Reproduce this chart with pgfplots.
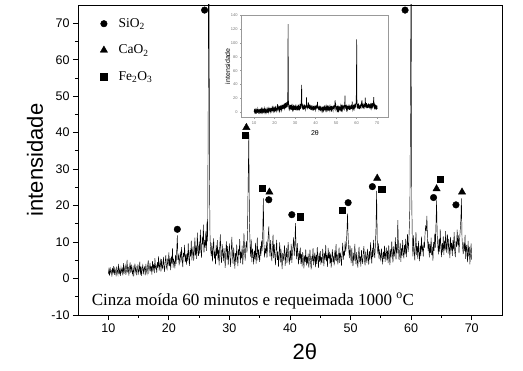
\documentclass[border=0pt]{standalone}
\usepackage{fontspec}
\setmainfont{Liberation Sans}
\newfontfamily\tnr{Liberation Serif}
\usepackage{pgfplots}
\usepackage{pgfplotstable}
\pgfplotsset{compat=1.18}

\pgfplotstableread[row sep=\\]{
x y\\
10.0 1.2\\ 10.1 2.5\\ 10.2 0.8\\ 10.3 3.1\\ 10.4 1.6\\ 10.5 2.2\\ 10.6 0.5\\ 10.7 2.9\\ 10.8 1.4\\ 10.9 3.4\\
11.0 1.0\\ 11.1 2.7\\ 11.2 1.9\\ 11.3 0.6\\ 11.4 3.3\\ 11.5 2.1\\ 11.6 1.1\\ 11.7 4.0\\ 11.8 1.5\\ 11.9 2.4\\
12.0 0.7\\ 12.1 3.0\\ 12.2 1.8\\ 12.3 2.6\\ 12.4 0.9\\ 12.5 4.2\\ 12.6 1.3\\ 12.7 2.8\\ 12.8 3.6\\ 12.9 1.0\\
13.0 2.3\\ 13.1 5.1\\ 13.2 1.7\\ 13.3 3.2\\ 13.4 0.8\\ 13.5 2.9\\ 13.6 4.4\\ 13.7 1.6\\ 13.8 3.8\\ 13.9 2.0\\
14.0 1.2\\ 14.1 3.5\\ 14.2 0.6\\ 14.3 2.7\\ 14.4 4.1\\ 14.5 1.9\\ 14.6 3.0\\ 14.7 0.9\\ 14.8 2.5\\ 14.9 3.9\\
15.0 1.4\\ 15.1 2.2\\ 15.2 4.6\\ 15.3 1.1\\ 15.4 3.3\\ 15.5 0.7\\ 15.6 2.8\\ 15.7 3.7\\ 15.8 1.5\\ 15.9 2.6\\
16.0 3.1\\ 16.1 0.9\\ 16.2 4.0\\ 16.3 2.2\\ 16.4 1.3\\ 16.5 3.6\\ 16.6 5.0\\ 16.7 1.8\\ 16.8 2.9\\ 16.9 4.3\\
17.0 2.0\\ 17.1 3.4\\ 17.2 1.1\\ 17.3 4.8\\ 17.4 2.6\\ 17.5 3.9\\ 17.6 1.5\\ 17.7 5.6\\ 17.8 2.8\\ 17.9 3.3\\
18.0 1.6\\ 18.1 4.5\\ 18.2 3.0\\ 18.3 6.1\\ 18.4 2.2\\ 18.5 3.8\\ 18.6 4.9\\ 18.7 1.9\\ 18.8 5.3\\ 18.9 3.1\\
19.0 2.7\\ 19.1 5.9\\ 19.2 3.6\\ 19.3 1.8\\ 19.4 4.7\\ 19.5 6.4\\ 19.6 3.2\\ 19.7 2.5\\ 19.8 5.1\\ 19.9 4.0\\
20.0 7.2\\ 20.1 3.4\\ 20.2 5.5\\ 20.3 2.3\\ 20.4 6.0\\ 20.5 4.1\\ 20.6 8.3\\ 20.7 3.0\\ 20.8 5.2\\ 20.9 4.6\\
21.0 2.8\\ 21.1 6.5\\ 21.2 4.0\\ 21.3 7.9\\ 21.4 11.8\\ 21.5 5.1\\ 21.6 6.2\\ 21.7 3.6\\ 21.8 5.8\\ 21.9 7.4\\
22.0 4.4\\ 22.1 8.6\\ 22.2 5.3\\ 22.3 3.1\\ 22.4 7.0\\ 22.5 5.9\\ 22.6 9.2\\ 22.7 4.5\\ 22.8 6.6\\ 22.9 3.8\\
23.0 6.9\\ 23.1 4.8\\ 23.2 9.7\\ 23.3 5.6\\ 23.4 3.5\\ 23.5 7.8\\ 23.6 6.1\\ 23.7 10.4\\ 23.8 5.0\\ 23.9 7.3\\
24.0 8.8\\ 24.1 4.9\\ 24.2 7.5\\ 24.3 11.2\\ 24.4 6.3\\ 24.5 9.0\\ 24.6 5.4\\ 24.7 12.6\\ 24.8 7.7\\ 24.9 6.2\\
25.0 10.1\\ 25.1 6.8\\ 25.2 13.4\\ 25.3 8.0\\ 25.4 5.7\\ 25.5 11.5\\ 25.6 9.3\\ 25.7 14.8\\ 25.8 7.1\\ 25.9 10.6\\
26.0 8.4\\ 26.1 12.9\\ 26.2 7.6\\ 26.3 15.6\\ 26.4 10.2\\ 26.5 46.0\\ 26.6 127.0\\ 26.7 28.0\\ 26.8 11.3\\ 26.9 7.9\\
27.0 6.1\\ 27.1 9.8\\ 27.2 4.7\\ 27.3 8.2\\ 27.4 11.0\\ 27.5 5.5\\ 27.6 7.4\\ 27.7 3.9\\ 27.8 9.1\\ 27.9 6.3\\
28.0 10.5\\ 28.1 5.2\\ 28.2 7.9\\ 28.3 3.6\\ 28.4 8.7\\ 28.5 12.1\\ 28.6 6.0\\ 28.7 4.3\\ 28.8 9.4\\ 28.9 7.1\\
29.0 4.8\\ 29.1 8.3\\ 29.2 6.6\\ 29.3 2.9\\ 29.4 7.5\\ 29.5 10.2\\ 29.6 5.1\\ 29.7 8.9\\ 29.8 3.7\\ 29.9 6.8\\
30.0 9.6\\ 30.1 5.4\\ 30.2 3.2\\ 30.3 7.7\\ 30.4 11.4\\ 30.5 6.2\\ 30.6 4.0\\ 30.7 8.5\\ 30.8 5.8\\ 30.9 2.7\\
31.0 7.0\\ 31.1 4.6\\ 31.2 9.3\\ 31.3 5.9\\ 31.4 3.4\\ 31.5 8.1\\ 31.6 6.5\\ 31.7 10.8\\ 31.8 4.2\\ 31.9 7.3\\
32.0 5.5\\ 32.1 9.0\\ 32.2 3.8\\ 32.3 6.9\\ 32.4 12.4\\ 32.5 7.8\\ 32.6 4.9\\ 32.7 8.6\\ 32.8 10.3\\ 32.9 7.1\\
33.0 14.5\\ 33.1 27.5\\ 33.2 39.5\\ 33.3 16.2\\ 33.4 9.4\\ 33.5 6.0\\ 33.6 10.7\\ 33.7 4.5\\ 33.8 8.2\\ 33.9 6.4\\
34.0 3.9\\ 34.1 7.6\\ 34.2 5.3\\ 34.3 9.8\\ 34.4 4.1\\ 34.5 6.7\\ 34.6 11.2\\ 34.7 5.0\\ 34.8 8.0\\ 34.9 6.1\\
35.0 4.6\\ 35.1 8.9\\ 35.2 6.2\\ 35.3 10.4\\ 35.4 7.5\\ 35.5 12.8\\ 35.6 22.0\\ 35.7 9.6\\ 35.8 5.8\\ 35.9 8.3\\
36.0 6.9\\ 36.1 10.1\\ 36.2 5.7\\ 36.3 9.2\\ 36.4 11.6\\ 36.5 14.3\\ 36.6 8.4\\ 36.7 6.0\\ 36.8 10.5\\ 36.9 7.2\\
37.0 4.8\\ 37.1 8.7\\ 37.2 12.0\\ 37.3 5.6\\ 37.4 9.4\\ 37.5 6.3\\ 37.6 3.7\\ 37.7 7.9\\ 37.8 10.6\\ 37.9 5.1\\
38.0 7.4\\ 38.1 3.2\\ 38.2 6.8\\ 38.3 9.9\\ 38.4 4.4\\ 38.5 8.1\\ 38.6 5.5\\ 38.7 2.6\\ 38.8 7.0\\ 38.9 4.9\\
39.0 6.6\\ 39.1 9.1\\ 39.2 3.5\\ 39.3 5.9\\ 39.4 8.4\\ 39.5 4.2\\ 39.6 7.3\\ 39.7 10.0\\ 39.8 5.4\\ 39.9 3.8\\
40.0 7.7\\ 40.1 5.0\\ 40.2 9.5\\ 40.3 4.3\\ 40.4 6.9\\ 40.5 8.8\\ 40.6 11.3\\ 40.7 6.2\\ 40.8 9.0\\ 40.9 15.2\\
41.0 8.1\\ 41.1 5.3\\ 41.2 9.7\\ 41.3 6.4\\ 41.4 3.9\\ 41.5 7.6\\ 41.6 5.1\\ 41.7 8.5\\ 41.8 4.0\\ 41.9 6.7\\
42.0 3.3\\ 42.1 7.2\\ 42.2 5.6\\ 42.3 2.8\\ 42.4 6.3\\ 42.5 4.5\\ 42.6 8.0\\ 42.7 3.6\\ 42.8 5.9\\ 42.9 4.1\\
43.0 6.8\\ 43.1 3.0\\ 43.2 5.2\\ 43.3 7.9\\ 43.4 4.4\\ 43.5 2.5\\ 43.6 6.1\\ 43.7 4.8\\ 43.8 8.3\\ 43.9 3.7\\
44.0 5.4\\ 44.1 7.1\\ 44.2 3.1\\ 44.3 6.5\\ 44.4 4.0\\ 44.5 8.6\\ 44.6 5.7\\ 44.7 2.9\\ 44.8 6.9\\ 44.9 4.6\\
45.0 7.5\\ 45.1 3.8\\ 45.2 5.9\\ 45.3 4.2\\ 45.4 8.1\\ 45.5 6.0\\ 45.6 3.4\\ 45.7 7.0\\ 45.8 5.1\\ 45.9 9.2\\
46.0 4.7\\ 46.1 6.4\\ 46.2 3.2\\ 46.3 8.4\\ 46.4 5.5\\ 46.5 7.3\\ 46.6 4.1\\ 46.7 6.8\\ 46.8 3.0\\ 46.9 5.8\\
47.0 8.0\\ 47.1 4.4\\ 47.2 6.2\\ 47.3 3.6\\ 47.4 7.7\\ 47.5 5.0\\ 47.6 9.4\\ 47.7 4.8\\ 47.8 6.6\\ 47.9 3.9\\
48.0 5.7\\ 48.1 8.5\\ 48.2 4.3\\ 48.3 7.1\\ 48.4 5.9\\ 48.5 3.5\\ 48.6 6.9\\ 48.7 9.8\\ 48.8 5.2\\ 48.9 7.6\\
49.0 6.3\\ 49.1 10.2\\ 49.2 7.4\\ 49.3 9.0\\ 49.4 12.9\\ 49.5 17.8\\ 49.6 11.1\\ 49.7 8.0\\ 49.8 5.6\\ 49.9 9.1\\
50.0 6.7\\ 50.1 4.2\\ 50.2 8.3\\ 50.3 5.5\\ 50.4 3.4\\ 50.5 7.0\\ 50.6 4.9\\ 50.7 9.5\\ 50.8 5.8\\ 50.9 3.9\\
51.0 7.2\\ 51.1 5.1\\ 51.2 3.0\\ 51.3 6.4\\ 51.4 8.7\\ 51.5 4.5\\ 51.6 6.1\\ 51.7 3.3\\ 51.8 7.8\\ 51.9 5.4\\
52.0 4.0\\ 52.1 6.9\\ 52.2 8.9\\ 52.3 5.0\\ 52.4 3.6\\ 52.5 7.4\\ 52.6 5.7\\ 52.7 4.3\\ 52.8 8.1\\ 52.9 6.0\\
53.0 3.8\\ 53.1 7.5\\ 53.2 5.2\\ 53.3 9.9\\ 53.4 6.6\\ 53.5 4.1\\ 53.6 8.4\\ 53.7 5.9\\ 53.8 10.6\\ 53.9 7.2\\
54.0 5.6\\ 54.1 9.3\\ 54.2 13.8\\ 54.3 24.0\\ 54.4 10.7\\ 54.5 6.8\\ 54.6 9.6\\ 54.7 5.3\\ 54.8 8.0\\ 54.9 6.5\\
55.0 4.7\\ 55.1 8.2\\ 55.2 6.1\\ 55.3 3.9\\ 55.4 7.3\\ 55.5 5.4\\ 55.6 9.0\\ 55.7 4.6\\ 55.8 6.8\\ 55.9 8.5\\
56.0 5.0\\ 56.1 7.7\\ 56.2 4.2\\ 56.3 9.1\\ 56.4 6.3\\ 56.5 3.7\\ 56.6 8.0\\ 56.7 5.8\\ 56.8 10.2\\ 56.9 6.6\\
57.0 4.4\\ 57.1 8.8\\ 57.2 6.0\\ 57.3 7.5\\ 57.4 11.3\\ 57.5 5.2\\ 57.6 9.4\\ 57.7 6.9\\ 57.8 16.0\\ 57.9 8.7\\
58.0 5.1\\ 58.1 7.4\\ 58.2 9.8\\ 58.3 4.6\\ 58.4 8.3\\ 58.5 6.2\\ 58.6 10.5\\ 58.7 7.0\\ 58.8 5.5\\ 58.9 9.2\\
59.0 6.8\\ 59.1 10.9\\ 59.2 5.9\\ 59.3 8.6\\ 59.4 12.2\\ 59.5 7.3\\ 59.6 9.7\\ 59.7 14.1\\ 59.8 20.5\\ 59.9 48.0\\
60.0 105.0\\ 60.1 22.0\\ 60.2 9.5\\ 60.3 6.1\\ 60.4 11.8\\ 60.5 7.6\\ 60.6 5.0\\ 60.7 9.3\\ 60.8 12.7\\ 60.9 6.4\\
61.0 8.9\\ 61.1 5.4\\ 61.2 10.3\\ 61.3 7.1\\ 61.4 4.8\\ 61.5 9.0\\ 61.6 6.2\\ 61.7 11.5\\ 61.8 7.8\\ 61.9 8.6\\
62.0 6.0\\ 62.1 9.9\\ 62.2 8.4\\ 62.3 12.4\\ 62.4 14.6\\ 62.5 13.0\\ 62.6 17.2\\ 62.7 11.0\\ 62.8 7.5\\ 62.9 10.1\\
63.0 5.8\\ 63.1 9.4\\ 63.2 7.0\\ 63.3 11.2\\ 63.4 6.4\\ 63.5 8.7\\ 63.6 4.9\\ 63.7 10.0\\ 63.8 7.6\\ 63.9 12.3\\
64.0 8.5\\ 64.1 14.8\\ 64.2 21.4\\ 64.3 12.0\\ 64.4 9.2\\ 64.5 6.6\\ 64.6 10.8\\ 64.7 7.4\\ 64.8 13.5\\ 64.9 8.9\\
65.0 5.9\\ 65.1 9.7\\ 65.2 7.2\\ 65.3 11.6\\ 65.4 6.5\\ 65.5 10.4\\ 65.6 8.0\\ 65.7 13.0\\ 65.8 7.1\\ 65.9 9.5\\
66.0 12.1\\ 66.1 6.8\\ 66.2 10.9\\ 66.3 8.3\\ 66.4 5.6\\ 66.5 11.4\\ 66.6 7.7\\ 66.7 9.8\\ 66.8 6.2\\ 66.9 10.5\\
67.0 8.0\\ 67.1 12.7\\ 67.2 7.3\\ 67.3 5.9\\ 67.4 10.2\\ 67.5 8.6\\ 67.6 13.4\\ 67.7 9.1\\ 67.8 11.8\\ 67.9 7.0\\
68.0 10.6\\ 68.1 13.2\\ 68.2 15.9\\ 68.3 22.0\\ 68.4 11.0\\ 68.5 8.4\\ 68.6 6.7\\ 68.7 9.9\\ 68.8 7.5\\ 68.9 12.0\\
69.0 5.4\\ 69.1 9.2\\ 69.2 7.8\\ 69.3 4.5\\ 69.4 10.3\\ 69.5 6.1\\ 69.6 8.7\\ 69.7 3.9\\ 69.8 7.0\\ 69.9 9.6\\
70.0 5.2\\
}\xrd

\begin{document}
\begin{tikzpicture}
\useasboundingbox (-78pt,-56pt) rectangle (445pt,315pt);
\begin{axis}[
  at={(0pt,0pt)}, anchor=south west,
  scale only axis, width=424pt, height=310pt,
  xmin=5, xmax=75, ymin=-10, ymax=75,
  xtick={10,20,...,70}, ytick={-10,0,...,70},
  minor x tick num=1, minor y tick num=1,
  tick pos=left, tick align=outside,
  major tick length=5pt, minor tick length=3pt,
  axis line style={line width=0.9pt},
  every tick/.style={black, line width=0.8pt},
  tick label style={font=\fontsize{12.5}{13}\selectfont},
  /pgf/number format/assume math mode=true,
  xlabel={2θ}, ylabel={intensidade},
  label style={font=\fontsize{22}{24}\selectfont},
  xlabel style={at={(axis description cs:0.535,0)}, anchor=center, yshift=-37pt},
  ylabel style={at={(axis description cs:-0.1014,0.5)}, anchor=center},
  legend style={draw=none, fill=none, at={(rel axis cs:0.045,0.97)}, anchor=north west,
    font=\tnr\fontsize{13.5}{14}\selectfont, row sep=12pt,
    /tikz/every odd column/.append style={column sep=9pt}},
  legend cell align=left,
]
\addplot[black, line width=0.45pt, forget plot] table[x=x, y=y] {\xrd};
\addplot[only marks, mark=*, mark size=3.3pt, black] coordinates {
 (21.4,13.5) (25.9,73.6) (36.5,21.6) (40.3,17.5) (49.6,20.8) (53.6,25.2) (59.0,73.6) (63.7,22.2) (67.4,20.2)};
\addlegendentry{SiO\textsubscript{2}}
\addplot[only marks, mark=triangle*, mark size=4.2pt, black] coordinates {
 (32.8,41.4) (36.6,23.7) (54.4,27.5) (64.2,24.6) (68.4,23.7)};
\addlegendentry{CaO\textsubscript{2}}
\addplot[only marks, mark=square*, mark size=3.3pt, black] coordinates {
 (32.6,39.3) (35.4,24.8) (41.7,16.9) (48.6,18.7) (55.1,24.5) (64.8,27.2)};
\addlegendentry{Fe\textsubscript{2}O\textsubscript{3}}
\node[anchor=base west, inner sep=0pt, font=\tnr\fontsize{17}{18}\selectfont] at (rel axis cs:0.032,0.032) {Cinza moída 60 minutos e requeimada 1000 \textsuperscript{o}C};
\end{axis}
\begin{axis}[
  at={(163.7pt,197.7pt)}, anchor=south west,
  scale only axis, width=146.6pt, height=102.3pt,
  xmin=4, xmax=75.4, ymin=-7, ymax=140,
  xtick={10,20,...,70}, ytick={0,20,...,140},
  minor x tick num=1, minor y tick num=1,
  tick pos=left, tick align=outside,
  major tick length=1.6pt, minor tick length=1pt,
  axis line style={gray!80, line width=0.5pt},
  every tick/.style={gray!80, line width=0.4pt},
  tick label style={font=\fontsize{4}{4}\selectfont, text=gray!90!black},
  xticklabel style={yshift=1pt}, yticklabel style={xshift=1pt},
  /pgf/number format/assume math mode=true,
  xlabel={2θ}, ylabel={intensidade},
  label style={font=\fontsize{7}{7}\selectfont},
  xlabel style={at={(axis description cs:0.5,0)}, anchor=center, yshift=-15.7pt},
  ylabel style={at={(axis description cs:-0.0955,0.5)}, anchor=center},
]
\addplot[black, line width=0.6pt] table[x=x, y=y] {\xrd};
\end{axis}
\end{tikzpicture}
\end{document}
